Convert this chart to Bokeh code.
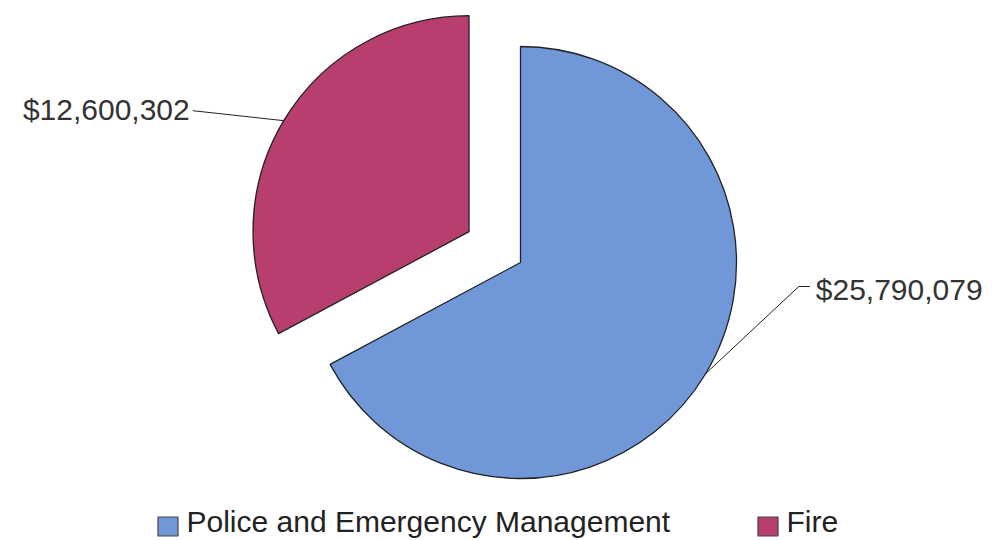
import math
from bokeh.plotting import figure
from bokeh.core.properties import value
from bokeh.embed import file_html
from bokeh.resources import INLINE

# ---- data ----
categories = ["Police and Emergency Management", "Fire"]
values = [25790079, 12600302]
labels = ["$25,790,079", "$12,600,302"]
colors = ["#7098d8", "#b83e70"]

W, H = 1003, 540
p = figure(width=W, height=H, x_range=(0, W), y_range=(0, H),
           output_backend="svg", toolbar_location=None, min_border=0)
p.axis.visible = False
p.grid.visible = False
p.outline_line_color = None
p.background_fill_color = "white"

total = sum(values)
cx, cy = 520, H - 262
R = 216
explode = [0, 60]
font = value("Liberation Sans")

start = math.pi / 2  # 12 o'clock, clockwise
for i, (cat, v, col) in enumerate(zip(categories, values, colors)):
    sweep = 2 * math.pi * v / total
    a_end = start
    a_start = start - sweep
    mid = (a_start + a_end) / 2
    ox = cx + explode[i] * math.cos(mid)
    oy = cy + explode[i] * math.sin(mid)
    p.wedge(x=[ox], y=[oy], radius=R, start_angle=[a_start], end_angle=[a_end],
            fill_color=col, line_color="#222222", line_width=1.3)
    # leader line
    ex = ox + R * math.cos(mid)
    ey = oy + R * math.sin(mid)
    if math.cos(mid) >= 0:
        kx, ky = ex + 93, ey + 87
        p.line([ex, kx, kx + 11], [ey, ky, ky], line_color="#222222", line_width=1)
        p.text(x=[kx + 17], y=[ky - 3], text=[labels[i]], text_font=font,
               text_font_size="30px", text_color="#333333",
               text_align="left", text_baseline="middle")
    else:
        kx, ky = ex - 91, ey + 10
        p.line([ex, kx], [ey, ky], line_color="#222222", line_width=1)
        p.text(x=[kx - 3], y=[ky + 1], text=[labels[i]], text_font=font,
               text_font_size="30px", text_color="#333333",
               text_align="right", text_baseline="middle")
    start = a_start

# ---- legend ----
leg_x = [157, 757]
for lx, cat, col in zip(leg_x, categories, colors):
    p.rect(x=[lx + 10.5], y=[H - 526], width=20, height=19, fill_color=col,
           line_color="#444444", line_width=1.2)
    p.text(x=[lx + 29], y=[H - 521], text=[cat], text_font=font,
           text_font_size="30px", text_color="#222222",
           text_align="left", text_baseline="middle")

open("out.html", "w").write(file_html(p, INLINE))
